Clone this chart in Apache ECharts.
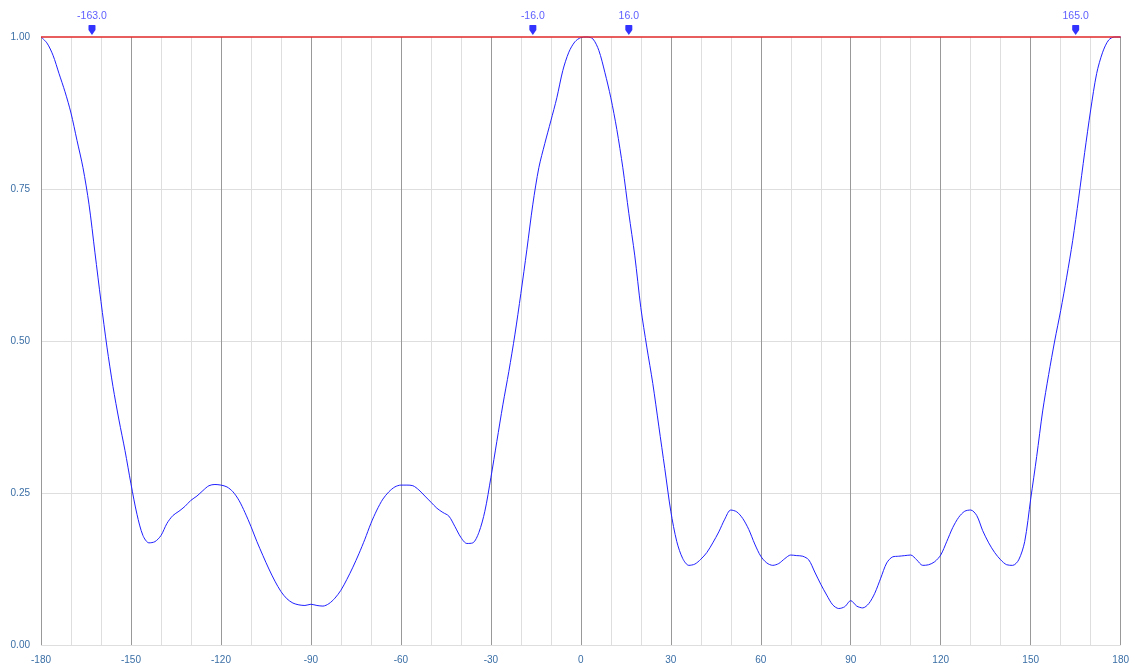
<!DOCTYPE html>
<html>
<head>
<meta charset="utf-8">
<script src="https://cdn.jsdelivr.net/npm/echarts@6/dist/echarts.min.js"></script>
<style>html,body{margin:0;padding:0;background:#fff;}#c{width:1132px;height:666px;}</style>
</head>
<body>
<div id="c"></div>
<script>
const angles = [-180,-178,-176,-174,-172,-170,-168,-166,-164,-162,-160,-158,-156,-154,-152,-150,-148,-146,-144,-142,-140,-138,-136,-134,-132,-130,-128,-126,-124,-122,-120,-118,-116,-114,-112,-110,-108,-106,-104,-102,-100,-98,-96,-94,-92,-90,-88,-86,-84,-82,-80,-78,-76,-74,-72,-70,-68,-66,-64,-62,-60,-58,-56,-54,-52,-50,-48,-46,-44,-42,-40,-38,-36,-34,-32,-30,-28,-26,-24,-22,-20,-18,-16,-14,-12,-10,-8,-6,-4,-2,0,2,4,6,8,10,12,14,16,18,20,22,24,26,28,30,32,34,36,38,40,42,44,46,48,50,52,54,56,58,60,62,64,66,68,70,72,74,76,78,80,82,84,86,88,90,92,94,96,98,100,102,104,106,108,110,112,114,116,118,120,122,124,126,128,130,132,134,136,138,140,142,144,146,148,150,152,154,156,158,160,162,164,166,168,170,172,174,176,178,180];
const gain = [1.0,0.99,0.97,0.94,0.91,0.875,0.83,0.785,0.725,0.645,0.565,0.49,0.425,0.37,0.32,0.265,0.215,0.18,0.168,0.17,0.18,0.2,0.213,0.22,0.228,0.238,0.245,0.254,0.262,0.264,0.263,0.26,0.252,0.238,0.218,0.195,0.17,0.147,0.125,0.105,0.088,0.076,0.069,0.066,0.065,0.067,0.065,0.064,0.068,0.077,0.09,0.108,0.128,0.15,0.174,0.2,0.222,0.24,0.252,0.26,0.263,0.263,0.262,0.255,0.245,0.235,0.225,0.218,0.212,0.195,0.177,0.167,0.168,0.185,0.22,0.275,0.335,0.395,0.45,0.51,0.578,0.65,0.725,0.785,0.825,0.862,0.9,0.945,0.975,0.992,0.999,1.0,0.997,0.978,0.942,0.9,0.848,0.785,0.71,0.64,0.555,0.49,0.43,0.36,0.29,0.22,0.17,0.142,0.131,0.133,0.141,0.152,0.168,0.186,0.207,0.222,0.219,0.208,0.19,0.166,0.146,0.135,0.131,0.134,0.142,0.148,0.147,0.146,0.14,0.12,0.1,0.082,0.066,0.06,0.063,0.073,0.064,0.061,0.068,0.085,0.11,0.135,0.145,0.146,0.147,0.148,0.14,0.131,0.132,0.137,0.148,0.17,0.193,0.21,0.22,0.222,0.213,0.188,0.168,0.152,0.14,0.132,0.131,0.14,0.17,0.24,0.31,0.385,0.445,0.5,0.55,0.605,0.665,0.735,0.81,0.88,0.94,0.975,0.995,1.0,1.0];
const markerAngles = [-163, -16, 16, 165];
const refLevel = 1.0;

const lineData = angles.map((a, i) => [a, gain[i]]);
const markerData = markerAngles.map(a => [a, refLevel]);

const chart = echarts.init(document.getElementById('c'), null, {renderer: 'canvas'});
chart.setOption({
  animation: false,
  backgroundColor: '#fff',
  grid: {left: 41, right: 9, top: 37, bottom: 21, containLabel: false},
  xAxis: {
    type: 'value', min: -180, max: 180, interval: 10,
    axisLine: {show: false},
    axisTick: {show: false},
    axisLabel: {
      color: '#3a6ea5', fontSize: 10, fontFamily: 'Arial, Liberation Sans, sans-serif', margin: 10,
      formatter: v => (v % 30 === 0 ? String(v) : '')
    },
    splitLine: {show: true, showMinLine: true, showMaxLine: true, lineStyle: {color: ['#999999', '#dedede', '#dedede'], width: 1}}
  },
  yAxis: {
    type: 'value', min: 0, max: 1, interval: 0.25,
    axisLine: {show: false},
    axisTick: {show: false},
    axisLabel: {color: '#3a6ea5', fontSize: 10, fontFamily: 'Arial, Liberation Sans, sans-serif', margin: 11, formatter: v => v.toFixed(2)},
    splitLine: {show: true, showMaxLine: false, lineStyle: {color: '#dedede', width: 1}}
  },
  series: [
    {
      type: 'line', data: lineData, smooth: 0.3, showSymbol: false, clip: false,
      lineStyle: {color: '#2020ff', width: 1},
      z: 3
    },
    {
      type: 'line', data: [[-180, refLevel], [180, refLevel]], showSymbol: false, clip: false,
      lineStyle: {color: '#e02828', width: 1.4},
      silent: true, z: 4
    },
    {
      type: 'scatter', data: markerData,
      symbol: 'path://M1,0 L9,0 Q10,0 10,1 L10,6 L5,12 L0,6 L0,1 Q0,0 1,0 Z',
      symbolSize: [7, 10], symbolOffset: [0, -7],
      itemStyle: {color: '#0000ff'},
      label: {
        show: true, position: 'top', distance: 3,
        color: '#3535ff', fontSize: 10.5, fontFamily: 'Arial, Liberation Sans, sans-serif',
        formatter: p => p.value[0].toFixed(1)
      },
      clip: false, z: 5
    }
  ]
});
</script>
</body>
</html>
